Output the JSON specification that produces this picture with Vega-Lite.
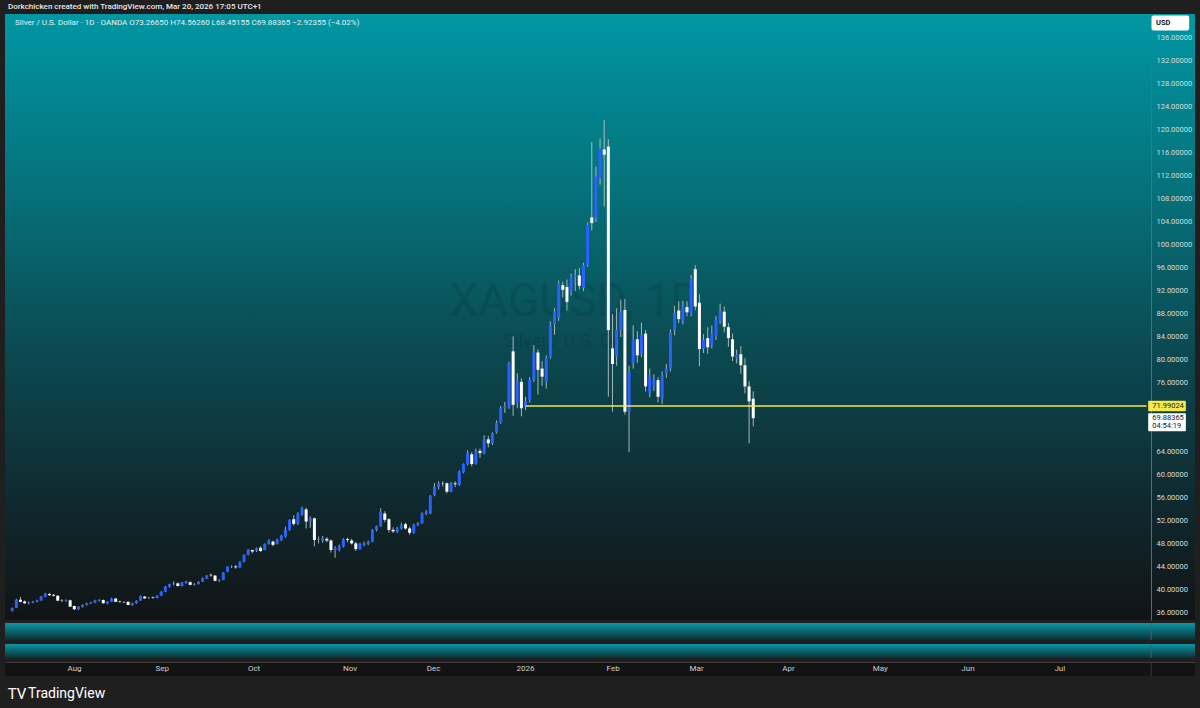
{
 "$schema": "https://vega.github.io/schema/vega-lite/v6.json",
 "background": "#1f1f1f",
 "padding": {"left": 5, "right": 5, "top": 3, "bottom": 0},
 "title": {"text": "Dorkchicken created with TradingView.com, Mar 20, 2026 17:05 UTC+1", "anchor": "start", "fontSize": 8, "font": "Roboto", "fontWeight": 500, "color": "#e6e6e6", "offset": 3, "dx": 3},
 "config": {"view": {"stroke": null}, "font": "Roboto"},
 "spacing": 2,
 "datasets": {
  "candles": [
   {"d":"2025-07-10","i":-16,"o":36.4,"h":36.95,"l":36.25,"c":36.85},
   {"d":"2025-07-11","i":-15,"o":36.9,"h":38.45,"l":36.85,"c":38.3},
   {"d":"2025-07-14","i":-14,"o":38.3,"h":38.8,"l":37.85,"c":37.95},
   {"d":"2025-07-15","i":-13,"o":38.0,"h":38.2,"l":37.55,"c":37.7},
   {"d":"2025-07-16","i":-12,"o":37.7,"h":38.0,"l":37.5,"c":37.85},
   {"d":"2025-07-17","i":-11,"o":37.85,"h":38.1,"l":37.7,"c":37.95},
   {"d":"2025-07-18","i":-10,"o":37.95,"h":38.3,"l":37.85,"c":38.2},
   {"d":"2025-07-21","i":-9,"o":38.2,"h":38.95,"l":38.1,"c":38.85},
   {"d":"2025-07-22","i":-8,"o":38.85,"h":39.5,"l":38.75,"c":39.3},
   {"d":"2025-07-23","i":-7,"o":39.3,"h":39.5,"l":38.95,"c":39.1},
   {"d":"2025-07-24","i":-6,"o":39.15,"h":39.3,"l":38.9,"c":39.0},
   {"d":"2025-07-25","i":-5,"o":39.0,"h":39.05,"l":38.05,"c":38.15},
   {"d":"2025-07-28","i":-4,"o":38.15,"h":38.4,"l":37.9,"c":38.1},
   {"d":"2025-07-29","i":-3,"o":38.1,"h":38.35,"l":37.95,"c":38.2},
   {"d":"2025-07-30","i":-2,"o":38.2,"h":38.3,"l":37.05,"c":37.1},
   {"d":"2025-07-31","i":-1,"o":37.2,"h":37.3,"l":36.5,"c":36.65},
   {"d":"2025-08-01","i":0,"o":36.65,"h":37.2,"l":36.5,"c":37.1},
   {"d":"2025-08-04","i":1,"o":37.1,"h":37.5,"l":36.95,"c":37.4},
   {"d":"2025-08-05","i":2,"o":37.4,"h":37.8,"l":37.3,"c":37.7},
   {"d":"2025-08-06","i":3,"o":37.7,"h":37.95,"l":37.55,"c":37.8},
   {"d":"2025-08-07","i":4,"o":37.8,"h":38.3,"l":37.7,"c":38.15},
   {"d":"2025-08-08","i":5,"o":38.15,"h":38.4,"l":38.0,"c":38.25},
   {"d":"2025-08-11","i":6,"o":38.25,"h":38.35,"l":37.6,"c":37.7},
   {"d":"2025-08-12","i":7,"o":37.65,"h":38.05,"l":37.5,"c":37.95},
   {"d":"2025-08-13","i":8,"o":37.95,"h":38.65,"l":37.9,"c":38.5},
   {"d":"2025-08-14","i":9,"o":38.5,"h":38.6,"l":37.9,"c":37.95},
   {"d":"2025-08-15","i":10,"o":38.0,"h":38.15,"l":37.8,"c":37.9},
   {"d":"2025-08-18","i":11,"o":37.9,"h":38.05,"l":37.75,"c":37.85},
   {"d":"2025-08-19","i":12,"o":37.95,"h":38.0,"l":37.35,"c":37.4},
   {"d":"2025-08-20","i":13,"o":37.35,"h":37.8,"l":37.25,"c":37.7},
   {"d":"2025-08-21","i":14,"o":37.7,"h":38.2,"l":37.6,"c":38.15},
   {"d":"2025-08-22","i":15,"o":38.15,"h":39.05,"l":38.1,"c":38.95},
   {"d":"2025-08-25","i":16,"o":38.85,"h":38.95,"l":38.45,"c":38.55},
   {"d":"2025-08-26","i":17,"o":38.6,"h":38.8,"l":38.45,"c":38.7},
   {"d":"2025-08-27","i":18,"o":38.7,"h":38.85,"l":38.5,"c":38.6},
   {"d":"2025-08-28","i":19,"o":38.65,"h":39.1,"l":38.55,"c":39.0},
   {"d":"2025-08-29","i":20,"o":39.0,"h":39.8,"l":38.95,"c":39.7},
   {"d":"2025-09-01","i":21,"o":39.7,"h":40.7,"l":39.6,"c":40.6},
   {"d":"2025-09-02","i":22,"o":40.6,"h":41.1,"l":40.4,"c":41.0},
   {"d":"2025-09-03","i":23,"o":41.0,"h":41.5,"l":40.8,"c":41.15},
   {"d":"2025-09-04","i":24,"o":41.15,"h":41.3,"l":40.6,"c":40.7},
   {"d":"2025-09-05","i":25,"o":40.7,"h":41.4,"l":40.6,"c":41.3},
   {"d":"2025-09-08","i":26,"o":41.2,"h":41.6,"l":41.1,"c":41.45},
   {"d":"2025-09-09","i":27,"o":41.35,"h":41.5,"l":40.8,"c":40.9},
   {"d":"2025-09-10","i":28,"o":40.9,"h":41.2,"l":40.75,"c":41.0},
   {"d":"2025-09-11","i":29,"o":41.05,"h":41.5,"l":40.95,"c":41.45},
   {"d":"2025-09-12","i":30,"o":41.45,"h":42.2,"l":41.4,"c":42.0},
   {"d":"2025-09-15","i":31,"o":42.0,"h":42.6,"l":41.9,"c":42.5},
   {"d":"2025-09-16","i":32,"o":42.65,"h":42.85,"l":42.3,"c":42.55},
   {"d":"2025-09-17","i":33,"o":42.5,"h":42.6,"l":41.5,"c":41.6},
   {"d":"2025-09-18","i":34,"o":41.65,"h":41.9,"l":41.4,"c":41.75},
   {"d":"2025-09-19","i":35,"o":41.75,"h":43.1,"l":41.7,"c":43.0},
   {"d":"2025-09-22","i":36,"o":43.2,"h":44.1,"l":43.1,"c":44.05},
   {"d":"2025-09-23","i":37,"o":44.05,"h":44.3,"l":43.8,"c":44.1},
   {"d":"2025-09-24","i":38,"o":44.1,"h":44.3,"l":43.7,"c":43.95},
   {"d":"2025-09-25","i":39,"o":43.95,"h":45.0,"l":43.8,"c":44.9},
   {"d":"2025-09-26","i":40,"o":44.9,"h":46.2,"l":44.8,"c":46.1},
   {"d":"2025-09-29","i":41,"o":46.1,"h":47.1,"l":46.0,"c":46.95},
   {"d":"2025-09-30","i":42,"o":46.95,"h":47.0,"l":46.4,"c":46.7},
   {"d":"2025-10-01","i":43,"o":46.85,"h":47.4,"l":46.6,"c":47.25},
   {"d":"2025-10-02","i":44,"o":47.35,"h":47.6,"l":46.6,"c":46.8},
   {"d":"2025-10-03","i":45,"o":46.95,"h":48.1,"l":46.9,"c":48.0},
   {"d":"2025-10-06","i":46,"o":48.0,"h":48.8,"l":47.9,"c":48.6},
   {"d":"2025-10-07","i":47,"o":48.4,"h":48.6,"l":47.6,"c":47.85},
   {"d":"2025-10-08","i":48,"o":48.0,"h":48.95,"l":47.9,"c":48.7},
   {"d":"2025-10-09","i":49,"o":48.7,"h":49.6,"l":48.5,"c":49.4},
   {"d":"2025-10-10","i":50,"o":49.3,"h":51.0,"l":49.1,"c":50.45},
   {"d":"2025-10-13","i":51,"o":50.45,"h":52.3,"l":50.3,"c":52.15},
   {"d":"2025-10-14","i":52,"o":52.3,"h":53.0,"l":51.2,"c":51.5},
   {"d":"2025-10-15","i":53,"o":51.5,"h":53.5,"l":51.3,"c":53.2},
   {"d":"2025-10-16","i":54,"o":53.05,"h":54.5,"l":52.9,"c":54.2},
   {"d":"2025-10-17","i":55,"o":54.0,"h":54.3,"l":50.7,"c":51.9},
   {"d":"2025-10-20","i":56,"o":51.9,"h":52.8,"l":50.8,"c":52.45},
   {"d":"2025-10-21","i":57,"o":52.45,"h":52.6,"l":47.6,"c":48.7},
   {"d":"2025-10-22","i":58,"o":48.75,"h":49.3,"l":48.1,"c":48.85},
   {"d":"2025-10-23","i":59,"o":48.6,"h":49.4,"l":48.2,"c":49.0},
   {"d":"2025-10-24","i":60,"o":48.9,"h":49.2,"l":48.3,"c":48.6},
   {"d":"2025-10-27","i":61,"o":48.6,"h":48.8,"l":46.5,"c":46.95},
   {"d":"2025-10-28","i":62,"o":46.95,"h":47.6,"l":45.6,"c":47.3},
   {"d":"2025-10-29","i":63,"o":47.0,"h":47.9,"l":46.7,"c":47.55},
   {"d":"2025-10-30","i":64,"o":47.55,"h":49.0,"l":47.4,"c":48.8},
   {"d":"2025-10-31","i":65,"o":48.85,"h":49.1,"l":48.3,"c":48.7},
   {"d":"2025-11-03","i":66,"o":48.6,"h":48.9,"l":47.9,"c":48.1},
   {"d":"2025-11-04","i":67,"o":48.1,"h":48.4,"l":46.8,"c":47.1},
   {"d":"2025-11-05","i":68,"o":47.1,"h":48.2,"l":47.0,"c":48.0},
   {"d":"2025-11-06","i":69,"o":47.8,"h":48.4,"l":47.6,"c":48.1},
   {"d":"2025-11-07","i":70,"o":48.0,"h":48.6,"l":47.8,"c":48.4},
   {"d":"2025-11-10","i":71,"o":48.4,"h":50.6,"l":48.3,"c":50.45},
   {"d":"2025-11-11","i":72,"o":50.45,"h":51.2,"l":50.2,"c":51.1},
   {"d":"2025-11-12","i":73,"o":51.1,"h":54.2,"l":51.0,"c":53.6},
   {"d":"2025-11-13","i":74,"o":53.3,"h":53.7,"l":51.8,"c":52.2},
   {"d":"2025-11-14","i":75,"o":52.3,"h":52.5,"l":50.0,"c":50.45},
   {"d":"2025-11-17","i":76,"o":50.45,"h":50.9,"l":49.9,"c":50.2},
   {"d":"2025-11-18","i":77,"o":50.15,"h":51.0,"l":49.9,"c":50.7},
   {"d":"2025-11-19","i":78,"o":50.7,"h":51.7,"l":50.5,"c":51.3},
   {"d":"2025-11-20","i":79,"o":51.45,"h":51.7,"l":50.5,"c":50.7},
   {"d":"2025-11-21","i":80,"o":50.7,"h":51.0,"l":49.6,"c":49.95},
   {"d":"2025-11-24","i":81,"o":49.95,"h":51.5,"l":49.8,"c":51.3},
   {"d":"2025-11-25","i":82,"o":51.3,"h":51.8,"l":51.1,"c":51.6},
   {"d":"2025-11-26","i":83,"o":51.6,"h":53.5,"l":51.5,"c":53.3},
   {"d":"2025-11-27","i":84,"o":53.3,"h":53.9,"l":53.0,"c":53.6},
   {"d":"2025-11-28","i":85,"o":53.3,"h":56.5,"l":53.2,"c":56.4},
   {"d":"2025-12-01","i":86,"o":56.5,"h":58.6,"l":56.3,"c":58.0},
   {"d":"2025-12-02","i":87,"o":57.9,"h":58.9,"l":57.5,"c":58.55},
   {"d":"2025-12-03","i":88,"o":58.5,"h":58.9,"l":58.0,"c":58.45},
   {"d":"2025-12-04","i":89,"o":58.55,"h":58.7,"l":56.8,"c":57.1},
   {"d":"2025-12-05","i":90,"o":57.1,"h":58.8,"l":57.0,"c":58.55},
   {"d":"2025-12-08","i":91,"o":58.55,"h":58.9,"l":57.9,"c":58.4},
   {"d":"2025-12-09","i":92,"o":58.3,"h":60.8,"l":58.1,"c":60.6},
   {"d":"2025-12-10","i":93,"o":60.5,"h":62.0,"l":60.3,"c":61.9},
   {"d":"2025-12-11","i":94,"o":61.9,"h":64.3,"l":61.7,"c":63.8},
   {"d":"2025-12-12","i":95,"o":63.6,"h":64.0,"l":61.5,"c":61.9},
   {"d":"2025-12-15","i":96,"o":62.0,"h":64.6,"l":61.8,"c":64.1},
   {"d":"2025-12-16","i":97,"o":64.2,"h":64.6,"l":63.0,"c":63.8},
   {"d":"2025-12-17","i":98,"o":63.8,"h":66.9,"l":63.6,"c":66.2},
   {"d":"2025-12-18","i":99,"o":66.2,"h":66.8,"l":64.8,"c":65.5},
   {"d":"2025-12-19","i":100,"o":65.5,"h":67.4,"l":65.2,"c":67.2},
   {"d":"2025-12-22","i":101,"o":67.4,"h":69.5,"l":67.2,"c":69.1},
   {"d":"2025-12-23","i":102,"o":69.1,"h":72.0,"l":68.9,"c":71.6},
   {"d":"2025-12-24","i":103,"o":71.6,"h":72.7,"l":70.8,"c":71.9},
   {"d":"2025-12-26","i":104,"o":71.9,"h":79.7,"l":71.5,"c":79.4},
   {"d":"2025-12-29","i":105,"o":81.5,"h":84.1,"l":70.3,"c":72.2},
   {"d":"2025-12-30","i":106,"o":72.5,"h":77.7,"l":71.6,"c":76.2},
   {"d":"2025-12-31","i":107,"o":76.2,"h":76.8,"l":70.2,"c":71.6},
   {"d":"2026-01-02","i":108,"o":71.8,"h":73.6,"l":71.3,"c":72.8},
   {"d":"2026-01-05","i":109,"o":73.0,"h":77.0,"l":72.6,"c":76.5},
   {"d":"2026-01-06","i":110,"o":76.5,"h":82.6,"l":76.2,"c":81.3},
   {"d":"2026-01-07","i":111,"o":81.3,"h":81.8,"l":74.0,"c":78.3},
   {"d":"2026-01-08","i":112,"o":78.5,"h":79.8,"l":75.5,"c":77.1},
   {"d":"2026-01-09","i":113,"o":76.2,"h":80.8,"l":75.0,"c":80.3},
   {"d":"2026-01-12","i":114,"o":80.5,"h":86.7,"l":80.2,"c":86.0},
   {"d":"2026-01-13","i":115,"o":86.2,"h":89.0,"l":84.4,"c":88.5},
   {"d":"2026-01-14","i":116,"o":87.3,"h":93.8,"l":86.8,"c":93.3},
   {"d":"2026-01-15","i":117,"o":93.0,"h":93.6,"l":90.9,"c":92.2},
   {"d":"2026-01-16","i":118,"o":92.7,"h":94.0,"l":88.6,"c":90.1},
   {"d":"2026-01-19","i":119,"o":91.9,"h":95.0,"l":91.2,"c":94.5},
   {"d":"2026-01-20","i":120,"o":94.5,"h":95.8,"l":92.0,"c":94.7},
   {"d":"2026-01-21","i":121,"o":94.7,"h":96.0,"l":92.3,"c":92.9},
   {"d":"2026-01-22","i":122,"o":92.5,"h":96.9,"l":92.0,"c":96.5},
   {"d":"2026-01-23","i":123,"o":96.5,"h":103.9,"l":96.2,"c":103.5},
   {"d":"2026-01-26","i":124,"o":104.8,"h":117.9,"l":102.5,"c":103.8},
   {"d":"2026-01-27","i":125,"o":104.6,"h":113.6,"l":104.0,"c":111.9},
   {"d":"2026-01-28","i":126,"o":111.6,"h":118.5,"l":110.5,"c":116.8},
   {"d":"2026-01-29","i":127,"o":116.6,"h":121.7,"l":106.7,"c":115.7},
   {"d":"2026-01-30","i":128,"o":117.1,"h":118.4,"l":73.6,"c":85.2},
   {"d":"2026-02-02","i":129,"o":82.0,"h":88.0,"l":71.0,"c":79.3},
   {"d":"2026-02-03","i":130,"o":80.6,"h":89.0,"l":79.0,"c":85.2},
   {"d":"2026-02-04","i":131,"o":85.2,"h":90.5,"l":84.0,"c":88.3},
   {"d":"2026-02-05","i":132,"o":88.7,"h":90.6,"l":70.5,"c":71.0},
   {"d":"2026-02-06","i":133,"o":71.0,"h":79.0,"l":64.0,"c":78.0},
   {"d":"2026-02-09","i":134,"o":79.4,"h":86.0,"l":78.5,"c":83.5},
   {"d":"2026-02-10","i":135,"o":83.6,"h":85.0,"l":79.5,"c":80.8},
   {"d":"2026-02-11","i":136,"o":81.1,"h":86.5,"l":80.5,"c":84.4},
   {"d":"2026-02-12","i":137,"o":84.6,"h":85.2,"l":74.5,"c":75.4},
   {"d":"2026-02-13","i":138,"o":74.2,"h":78.5,"l":73.5,"c":77.4},
   {"d":"2026-02-16","i":139,"o":75.4,"h":77.5,"l":74.6,"c":76.5},
   {"d":"2026-02-17","i":140,"o":76.5,"h":77.0,"l":72.6,"c":73.6},
   {"d":"2026-02-18","i":141,"o":73.3,"h":78.0,"l":72.3,"c":77.3},
   {"d":"2026-02-19","i":142,"o":77.7,"h":79.3,"l":76.9,"c":78.5},
   {"d":"2026-02-20","i":143,"o":78.5,"h":85.3,"l":78.0,"c":84.75},
   {"d":"2026-02-23","i":144,"o":85.2,"h":89.4,"l":84.3,"c":88.2},
   {"d":"2026-02-24","i":145,"o":88.6,"h":90.2,"l":86.4,"c":87.1},
   {"d":"2026-02-25","i":146,"o":86.8,"h":90.3,"l":86.2,"c":89.3},
   {"d":"2026-02-26","i":147,"o":89.2,"h":90.2,"l":87.6,"c":88.3},
   {"d":"2026-02-27","i":148,"o":88.1,"h":94.8,"l":87.6,"c":94.1},
   {"d":"2026-03-02","i":149,"o":95.8,"h":96.5,"l":88.6,"c":89.3},
   {"d":"2026-03-03","i":150,"o":89.96,"h":91.4,"l":78.9,"c":81.9},
   {"d":"2026-03-04","i":151,"o":82.0,"h":84.5,"l":81.2,"c":83.5},
   {"d":"2026-03-05","i":152,"o":83.8,"h":85.7,"l":81.1,"c":82.2},
   {"d":"2026-03-06","i":153,"o":82.6,"h":86.0,"l":82.0,"c":84.5},
   {"d":"2026-03-09","i":154,"o":84.1,"h":87.6,"l":83.5,"c":87.0},
   {"d":"2026-03-10","i":155,"o":86.8,"h":89.8,"l":86.3,"c":88.4},
   {"d":"2026-03-11","i":156,"o":88.4,"h":89.3,"l":84.8,"c":85.8},
   {"d":"2026-03-12","i":157,"o":85.7,"h":86.4,"l":82.3,"c":83.8},
   {"d":"2026-03-13","i":158,"o":83.6,"h":84.6,"l":79.8,"c":80.6},
   {"d":"2026-03-16","i":159,"o":80.3,"h":81.8,"l":79.4,"c":80.9},
   {"d":"2026-03-17","i":160,"o":81.0,"h":82.4,"l":77.6,"c":79.1},
   {"d":"2026-03-18","i":161,"o":79.1,"h":80.3,"l":74.2,"c":75.4},
   {"d":"2026-03-19","i":162,"o":75.4,"h":76.3,"l":65.5,"c":72.81},
   {"d":"2026-03-20","i":163,"o":73.2665,"h":74.5626,"l":68.45155,"c":69.88365}
  ]
 },
 "vconcat": [
  {
   "width": 1190, "height": 606,
   "view": {"fill": {"gradient": "linear", "x1": 0, "y1": 0, "x2": 0, "y2": 1, "stops": [
     {"offset": 0, "color": "#0097a3"},
     {"offset": 0.3, "color": "#067079"},
     {"offset": 0.55, "color": "#0b4a52"},
     {"offset": 0.8, "color": "#0f2a2f"},
     {"offset": 1, "color": "#111416"}]}},
   "resolve": {"axis": {"y": "independent", "x": "independent"}},
   "layer": [
    {
     "data": {"values": [{}]},
     "mark": {"type": "text", "text": "XAGUSD, 1D", "fontSize": 46, "color": "#000000", "opacity": 0.09, "align": "center", "baseline": "middle"},
     "encoding": {
      "x": {"datum": 120, "type": "quantitative", "scale": {"domain": [-16.53, 268.5], "nice": false, "zero": false}, "axis": null},
      "y": {"datum": 90.1, "type": "quantitative", "scale": {"domain": [34.78, 140.17], "nice": false, "zero": false},
            "axis": {"orient": "right", "offset": -44, "values": [36,40,44,48,52,56,60,64,76,80,84,88,92,96,100,104,108,112,116,120,124,128,132,136], "format": ".5f", "labelFontSize": 7.5, "labelColor": "#d3dcde", "labelAlign": "left", "labelPadding": 5, "ticks": false, "grid": false, "domain": true, "domainColor": "#4d7176", "domainWidth": 1, "title": null, "labelBaseline": "middle", "labelFlush": false, "labelOverlap": false}}
     }
    },
    {
     "data": {"values": [{}]},
     "mark": {"type": "text", "text": "Silver / U.S. Dollar", "fontSize": 18, "color": "#000000", "opacity": 0.09, "align": "center", "baseline": "middle"},
     "encoding": {
      "x": {"datum": 120, "type": "quantitative", "scale": {"domain": [-16.53, 268.5], "nice": false, "zero": false}, "axis": null},
      "y": {"datum": 83.1, "type": "quantitative", "scale": {"domain": [34.78, 140.17], "nice": false, "zero": false}, "axis": null}
     }
    },
    {
     "data": {"values": [{}]},
     "mark": {"type": "text", "text": "Silver / U.S. Dollar · 1D · OANDA   O73.26650  H74.56260  L68.45155  C69.88365  −2.92355 (−4.02%)", "fontSize": 8, "color": "#e8eef0", "align": "left", "baseline": "middle"},
     "encoding": {
      "x": {"datum": -15.3, "type": "quantitative", "scale": {"domain": [-16.53, 268.5], "nice": false, "zero": false}, "axis": null},
      "y": {"datum": 138.6, "type": "quantitative", "scale": {"domain": [34.78, 140.17], "nice": false, "zero": false}, "axis": null}
     }
    },
    {
     "data": {"name": "candles"},
     "mark": {"type": "rule", "color": "#c3c9cc", "strokeWidth": 1, "opacity": 0.85},
     "encoding": {
      "x": {"field": "i", "type": "quantitative", "scale": {"domain": [-16.53, 268.5], "nice": false, "zero": false}, "axis": null},
      "y": {"field": "l", "type": "quantitative", "scale": {"domain": [34.78, 140.17], "nice": false, "zero": false}, "axis": null},
      "y2": {"field": "h"}
     }
    },
    {
     "data": {"name": "candles"},
     "mark": {"type": "bar", "size": 3},
     "encoding": {
      "x": {"field": "i", "type": "quantitative", "scale": {"domain": [-16.53, 268.5], "nice": false, "zero": false}, "axis": null},
      "y": {"field": "o", "type": "quantitative", "scale": {"domain": [34.78, 140.17], "nice": false, "zero": false}, "axis": null},
      "y2": {"field": "c"},
      "color": {"condition": {"test": "datum.c >= datum.o", "value": "#2962ff"}, "value": "#ffffff"}
     }
    },
    {
     "data": {"values": [{}]},
     "mark": {"type": "rule", "color": "#f2e84b", "strokeWidth": 1.5},
     "encoding": {
      "x": {"datum": 108, "type": "quantitative", "scale": {"domain": [-16.53, 268.5], "nice": false, "zero": false}, "axis": null},
      "x2": {"datum": 258.0},
      "y": {"datum": 71.99024, "type": "quantitative", "scale": {"domain": [34.78, 140.17], "nice": false, "zero": false}, "axis": null}
     }
    },
    {
     "data": {"values": [{}]},
     "mark": {"type": "rect", "color": "#ffffff", "cornerRadius": 2},
     "encoding": {
      "x": {"datum": 259.2, "type": "quantitative", "scale": {"domain": [-16.53, 268.5], "nice": false, "zero": false}, "axis": null},
      "x2": {"datum": 268.3},
      "y": {"datum": 139.9, "type": "quantitative", "scale": {"domain": [34.78, 140.17], "nice": false, "zero": false}, "axis": null},
      "y2": {"datum": 137.3}
     }
    },
    {
     "data": {"values": [{}]},
     "mark": {"type": "text", "text": "USD", "fontSize": 7.5, "fontWeight": "bold", "color": "#131722", "align": "left", "baseline": "middle"},
     "encoding": {
      "x": {"datum": 260.3, "type": "quantitative", "scale": {"domain": [-16.53, 268.5], "nice": false, "zero": false}, "axis": null},
      "y": {"datum": 138.6, "type": "quantitative", "scale": {"domain": [34.78, 140.17], "nice": false, "zero": false}, "axis": null}
     }
    },
    {
     "data": {"values": [{}]},
     "mark": {"type": "rect", "color": "#f5ea4a", "cornerRadius": 1},
     "encoding": {
      "x": {"datum": 258.4, "type": "quantitative", "scale": {"domain": [-16.53, 268.5], "nice": false, "zero": false}, "axis": null},
      "x2": {"datum": 267.5},
      "y": {"datum": 72.9, "type": "quantitative", "scale": {"domain": [34.78, 140.17], "nice": false, "zero": false}, "axis": null},
      "y2": {"datum": 71.1}
     }
    },
    {
     "data": {"values": [{}]},
     "mark": {"type": "text", "text": "71.99024", "fontSize": 7.5, "color": "#131722", "align": "left", "baseline": "middle"},
     "encoding": {
      "x": {"datum": 259.4, "type": "quantitative", "scale": {"domain": [-16.53, 268.5], "nice": false, "zero": false}, "axis": null},
      "y": {"datum": 71.99, "type": "quantitative", "scale": {"domain": [34.78, 140.17], "nice": false, "zero": false}, "axis": null}
     }
    },
    {
     "data": {"values": [{}]},
     "mark": {"type": "rect", "color": "#ffffff", "cornerRadius": 1},
     "encoding": {
      "x": {"datum": 258.4, "type": "quantitative", "scale": {"domain": [-16.53, 268.5], "nice": false, "zero": false}, "axis": null},
      "x2": {"datum": 267.5},
      "y": {"datum": 70.75, "type": "quantitative", "scale": {"domain": [34.78, 140.17], "nice": false, "zero": false}, "axis": null},
      "y2": {"datum": 67.6}
     }
    },
    {
     "data": {"values": [{"t": "69.88365", "p": 69.88}, {"t": "04:54:19", "p": 68.5}]},
     "mark": {"type": "text", "fontSize": 7.5, "color": "#131722", "align": "left", "baseline": "middle"},
     "encoding": {
      "x": {"datum": 259.4, "type": "quantitative", "scale": {"domain": [-16.53, 268.5], "nice": false, "zero": false}, "axis": null},
      "y": {"field": "p", "type": "quantitative", "scale": {"domain": [34.78, 140.17], "nice": false, "zero": false}, "axis": null},
      "text": {"field": "t"}
     }
    }
   ]
  },
  {
   "width": 1190, "height": 17,
   "view": {"fill": {"gradient": "linear", "x1": 0, "y1": 0, "x2": 0, "y2": 1, "stops": [{"offset": 0, "color": "#0a97a3"}, {"offset": 1, "color": "#0c2f34"}]}},
   "data": {"values": [{}]},
   "mark": {"type": "rule", "color": "#3f6468", "strokeWidth": 1},
   "encoding": {"x": {"datum": 258.0, "type": "quantitative", "scale": {"domain": [-16.53, 268.5], "nice": false, "zero": false}, "axis": null}}
  },
  {
   "width": 1190, "height": 14,
   "view": {"fill": {"gradient": "linear", "x1": 0, "y1": 0, "x2": 0, "y2": 1, "stops": [{"offset": 0, "color": "#0a97a3"}, {"offset": 1, "color": "#0c2f34"}]}},
   "data": {"values": [{}]},
   "mark": {"type": "rule", "color": "#3f6468", "strokeWidth": 1},
   "encoding": {"x": {"datum": 258.0, "type": "quantitative", "scale": {"domain": [-16.53, 268.5], "nice": false, "zero": false}, "axis": null}}
  },
  {
   "width": 1190, "height": 14,
   "view": {"fill": "#131313"},
   "data": {"values": [{}]},
   "mark": {"type": "rule", "color": "#3a3a3a", "strokeWidth": 1},
   "encoding": {"x": {"datum": 258.0, "type": "quantitative", "scale": {"domain": [-16.53, 268.5], "nice": false, "zero": false},
     "axis": {"orient": "bottom", "offset": -14, "values": [0,21,43,66,86,108,129,149,171,193,214,236],
       "labelExpr": "datum.value == 0 ? 'Aug' : datum.value == 21 ? 'Sep' : datum.value == 43 ? 'Oct' : datum.value == 66 ? 'Nov' : datum.value == 86 ? 'Dec' : datum.value == 108 ? '2026' : datum.value == 129 ? 'Feb' : datum.value == 149 ? 'Mar' : datum.value == 171 ? 'Apr' : datum.value == 193 ? 'May' : datum.value == 214 ? 'Jun' : 'Jul'",
       "labelFontSize": 8, "labelColor": "#cfcfcf", "labelPadding": 2, "ticks": false, "grid": false, "domainColor": "#3d3d3d", "title": null, "labelFlush": false, "labelOverlap": false}}}
  },
  {
   "width": 1190, "height": 30,
   "data": {"values": [{"t": "TV", "x": -15.9, "s": 15, "w": 900}, {"t": "TradingView", "x": -11.0, "s": 14, "w": 500}]},
   "mark": {"type": "text", "color": "#ffffff", "align": "left", "baseline": "middle"},
   "encoding": {
    "x": {"field": "x", "type": "quantitative", "scale": {"domain": [-16.53, 268.5], "nice": false, "zero": false}, "axis": null},
    "text": {"field": "t"},
    "size": {"field": "s", "type": "quantitative", "scale": null, "legend": null},
    "fontWeight": {"field": "w"}
   }
  }
 ]
}
